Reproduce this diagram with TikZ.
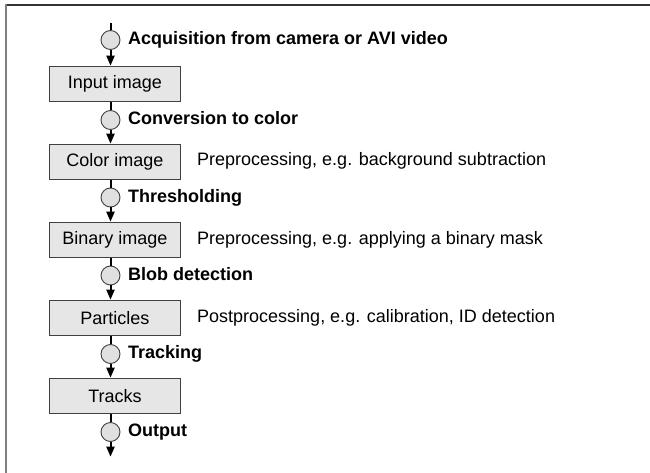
\documentclass[tikz,border=0pt]{standalone}
\usepackage{fontspec}
\setmainfont{Liberation Sans}
\usetikzlibrary{arrows.meta}
\definecolor{boxfill}{HTML}{E6E6E6}
\definecolor{circfill}{HTML}{E0E0E0}
\definecolor{edge}{HTML}{404040}
\begin{document}
\begin{tikzpicture}[x=1pt,y=-1pt,
  stagebox/.style={draw=edge, line width=0.9pt, fill=boxfill, minimum width=131pt, minimum height=35pt, inner sep=0pt, anchor=north west, font=\fontsize{18}{21}\selectfont},
  opcirc/.style={circle, draw=edge, line width=0.9pt, fill=circfill, minimum size=19pt, inner sep=0pt},
  oplabel/.style={anchor=west, inner sep=0pt, text height=13pt, text depth=4pt, font=\fontsize{18}{21}\selectfont\bfseries},
  note/.style={anchor=west, inner sep=0pt, text height=13pt, text depth=4pt, font=\fontsize{18}{21}\selectfont},
  flow/.style={line width=2pt, black},
  flowarrow/.style={line width=2pt, black, -{Triangle[length=10pt,width=8pt]}, shorten >=0.3pt}
]
\useasboundingbox (0,0) rectangle (650,473);
% frame
\draw[line width=1.3pt, color=black!80] (5,5) -- (650,5);
\draw[line width=2pt, color=black!50] (6,4.4) -- (6,473);

% boxes
\node[stagebox] (b1) at (49,66) {Input image};
\node[stagebox] (b2) at (49,144) {Color image};
\node[stagebox] (b3) at (49,222) {Binary image};
\node[stagebox] (b4) at (49,300) {Particles};
\node[stagebox] (b5) at (49,378) {Tracks};

% circles
\coordinate (start) at (110.5,23);
\node[opcirc] (c0) at (110.5,40) {};
\node[opcirc] (c1) at (110.5,120) {};
\node[opcirc] (c2) at (110.5,197.5) {};
\node[opcirc] (c3) at (110.5,275.5) {};
\node[opcirc] (c4) at (110.5,354) {};
\node[opcirc] (c5) at (110.5,432) {};
\coordinate (finish) at (110.5,457);

% connectors
\draw[flow] (start) -- (c0);
\draw[flowarrow] (c0) -- (b1.north -| c0);
\draw[flow] (b1.south -| c1) -- (c1);
\draw[flowarrow] (c1) -- (b2.north -| c1);
\draw[flow] (b2.south -| c2) -- (c2);
\draw[flowarrow] (c2) -- (b3.north -| c2);
\draw[flow] (b3.south -| c3) -- (c3);
\draw[flowarrow] (c3) -- (b4.north -| c3);
\draw[flow] (b4.south -| c4) -- (c4);
\draw[flowarrow] (c4) -- (b5.north -| c4);
\draw[flow] (b5.south -| c5) -- (c5);
\draw[flowarrow] (c5) -- (finish);

% operation labels
\node[oplabel] (l0) at (128,40) {Acquisition from camera or AVI video};
\node[oplabel] (l1) at (128,120) {Conversion to color};
\node[oplabel] (l2) at (128,197.5) {Thresholding};
\node[oplabel] (l3) at (128,275.5) {Blob detection};
\node[oplabel] (l4) at (128,354) {Tracking};
\node[oplabel] (l5) at (128,432) {Output};

% notes
\node[note] (n2) at (197,161.5) {Preprocessing, e.g. background subtraction};
\node[note] (n3) at (197,239.5) {Preprocessing, e.g. applying a binary mask};
\node[note] (n4) at (197,317.5) {Postprocessing, e.g. calibration, ID detection};
\end{tikzpicture}
\end{document}
